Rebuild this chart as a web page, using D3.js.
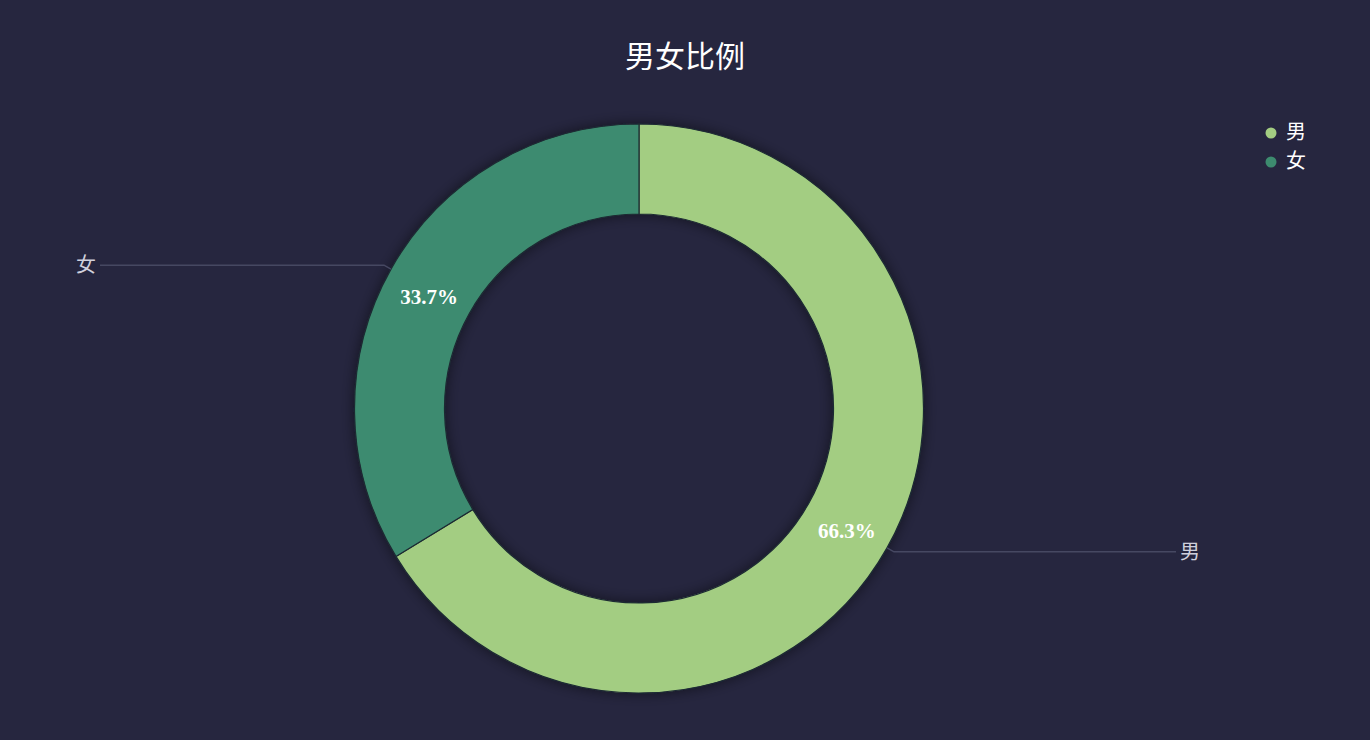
<!DOCTYPE html>
<html>
<head>
<meta charset="utf-8">
<script src="https://cdn.jsdelivr.net/npm/d3@7"></script>
<style>
  html, body { margin: 0; padding: 0; background: #26263f; }
  svg { display: block; }
</style>
</head>
<body>
<svg id="chart"></svg>
<script>
const categories = ["男", "女"];
const values = [66.3, 33.7];
const colors = ["#a3cd82", "#3d8b6f"];
const title = "男女比例";

const width = 1370;
const height = 740;
const cx = 639;
const cy = 408.5;
const outerR = 284.5;
const innerR = 194.5;

const data = categories.map((c, i) => ({ name: c, value: values[i] }));

const svg = d3.select("#chart")
    .attr("width", width)
    .attr("height", height)
    .attr("viewBox", [0, 0, width, height]);

svg.append("rect")
    .attr("width", width)
    .attr("height", height)
    .attr("fill", "#26263f");

const defs = svg.append("defs");
const shadow = defs.append("filter")
    .attr("id", "shadow")
    .attr("x", "-20%").attr("y", "-20%")
    .attr("width", "140%").attr("height", "140%");
shadow.append("feDropShadow")
    .attr("dx", 0).attr("dy", 0)
    .attr("stdDeviation", 7)
    .attr("flood-color", "#000")
    .attr("flood-opacity", 0.5);

svg.append("text")
    .attr("x", width / 2)
    .attr("y", 67)
    .attr("text-anchor", "middle")
    .attr("fill", "#ffffff")
    .style("font", "30px 'Noto Sans CJK SC', sans-serif")
    .text(title);

const color = d3.scaleOrdinal().domain(categories).range(colors);

const pie = d3.pie()
    .sort(null)
    .value(d => d.value);

const arcs = pie(data);

const arc = d3.arc().innerRadius(innerR).outerRadius(outerR);
const midArc = d3.arc().innerRadius((innerR + outerR) / 2).outerRadius((innerR + outerR) / 2);

const g = svg.append("g").attr("transform", `translate(${cx},${cy})`);

g.append("g")
    .attr("filter", "url(#shadow)")
    .selectAll("path")
    .data(arcs)
    .join("path")
    .attr("d", arc)
    .attr("fill", d => color(d.data.name))
    .attr("stroke", "#1d2b33")
    .attr("stroke-width", 1.2);

// percentage labels inside ring
g.append("g")
    .selectAll("text")
    .data(arcs)
    .join("text")
    .attr("transform", d => {
        const [x, y] = midArc.centroid(d);
        return `translate(${x - 1},${y + 5})`;
    })
    .attr("text-anchor", "middle")
    .attr("dy", "0.35em")
    .attr("fill", "#ffffff")
    .style("font", "bold 21px 'Liberation Serif', serif")
    .text(d => d.data.value.toFixed(1) + "%");

// outer label lines, labels aligned to edges
const edgeLeft = 76;
const edgeRight = 1180;
const labelG = svg.append("g");
arcs.forEach(d => {
    const mid = (d.startAngle + d.endAngle) / 2;
    const sx = Math.sin(mid), sy = -Math.cos(mid);
    const p0 = [cx + sx * outerR, cy + sy * outerR];
    const p1 = [cx + sx * (outerR + 8), cy + sy * (outerR + 8)];
    const right = sx > 0;
    const p2 = [right ? edgeRight - 4 : edgeLeft + 24, p1[1]];
    labelG.append("path")
        .attr("d", `M${p0[0]},${p0[1]}L${p1[0]},${p1[1]}L${p2[0]},${p2[1]}`)
        .attr("fill", "none")
        .attr("stroke", "#464862")
        .attr("stroke-width", 1.5);
    labelG.append("text")
        .attr("x", right ? edgeRight : edgeLeft)
        .attr("y", p1[1])
        .attr("dy", "0.35em")
        .attr("text-anchor", "start")
        .attr("fill", "#d0d0dc")
        .style("font", "20px 'Noto Sans CJK SC', sans-serif")
        .text(d.data.name);
});

// legend
const legend = svg.append("g")
    .attr("transform", "translate(1271,133)")
    .selectAll("g")
    .data(categories)
    .join("g")
    .attr("transform", (d, i) => `translate(0,${i * 29})`);

legend.append("circle")
    .attr("r", 5.5)
    .attr("fill", d => color(d));

legend.append("text")
    .attr("x", 15)
    .attr("dy", "0.3em")
    .attr("fill", "#ffffff")
    .style("font", "20px 'Noto Sans CJK SC', sans-serif")
    .text(d => d);
</script>
</body>
</html>
